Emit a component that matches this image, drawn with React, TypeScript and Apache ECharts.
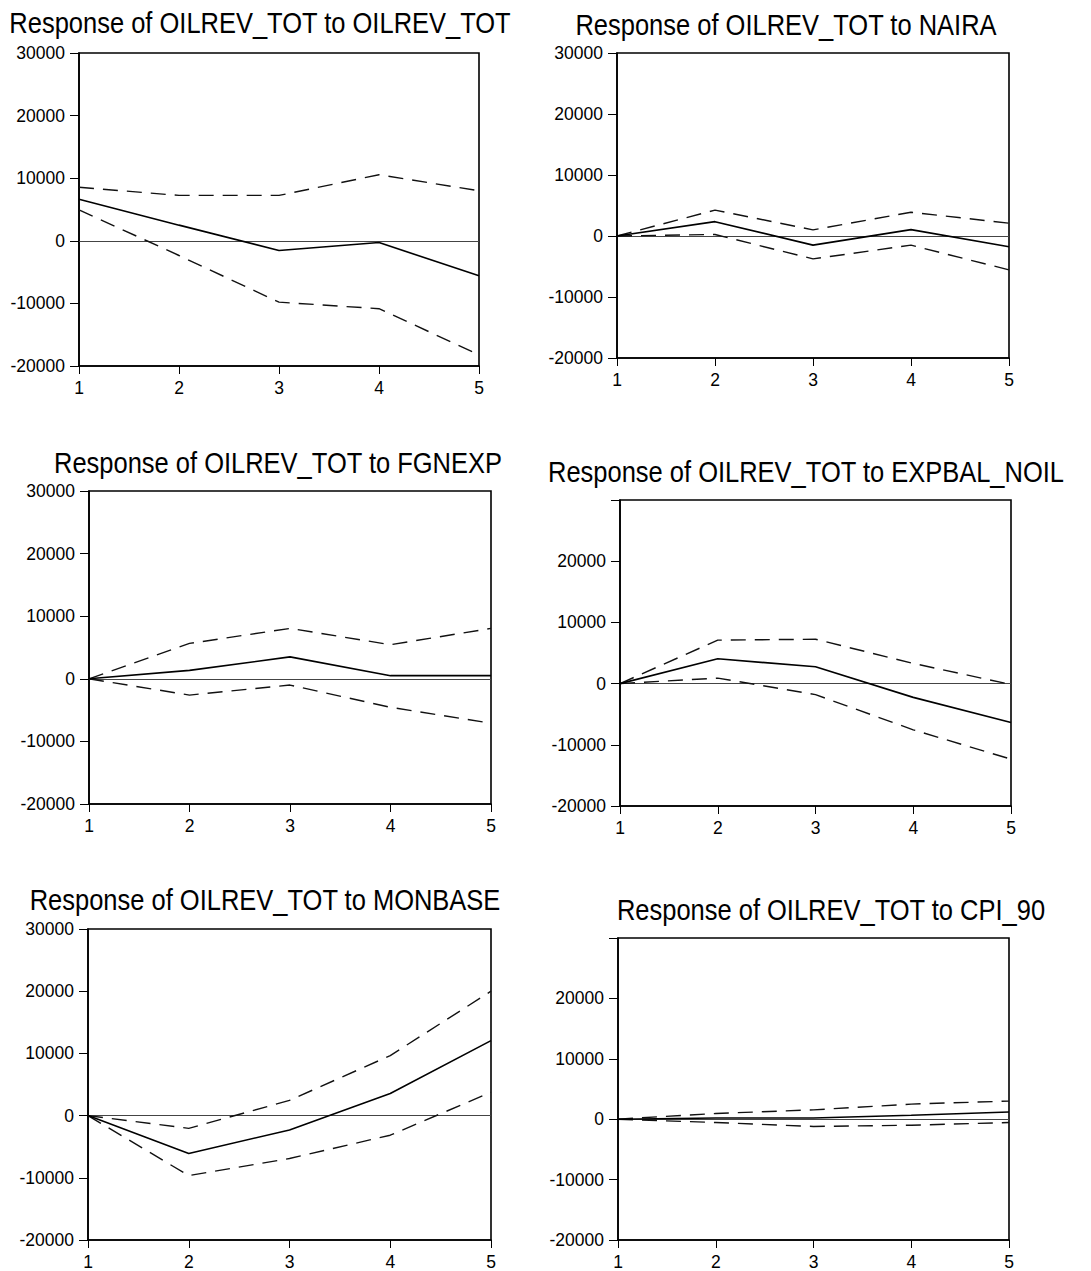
import React, { useEffect, useRef } from "react";
import * as echarts from "echarts";

const periods = [1, 2, 3, 4, 5];
const yMin = -20000;
const yMax = 30000;
const yStep = 10000;

const titles = [
  "Response of OILREV_TOT to OILREV_TOT",
  "Response of OILREV_TOT to NAIRA",
  "Response of OILREV_TOT to FGNEXP",
  "Response of OILREV_TOT to EXPBAL_NOIL",
  "Response of OILREV_TOT to MONBASE",
  "Response of OILREV_TOT to CPI_90",
];

const oilrevResp = [6650, 2500, -1550, -270, -5600];
const oilrevUpper = [8550, 7250, 7250, 10550, 8000];
const oilrevLower = [4950, -2350, -9800, -10850, -18200];

const nairaResp = [0, 2350, -1500, 1050, -1750];
const nairaUpper = [0, 4250, 1000, 3900, 2100];
const nairaLower = [0, 250, -3750, -1500, -5550];

const fgnexpResp = [0, 1350, 3500, 500, 500];
const fgnexpUpper = [0, 5650, 8050, 5450, 8050];
const fgnexpLower = [0, -2600, -1000, -4550, -7100];

const expbalResp = [0, 4050, 2750, -2250, -6350];
const expbalUpper = [0, 7100, 7250, 3300, -150];
const expbalLower = [0, 900, -1800, -7550, -12350];

const monbaseResp = [0, -6100, -2300, 3550, 12050];
const monbaseUpper = [0, -2050, 2450, 9650, 20000];
const monbaseLower = [0, -9650, -6900, -3150, 3750];

const cpiResp = [0, 200, 200, 650, 1200];
const cpiUpper = [0, 950, 1550, 2500, 3000];
const cpiLower = [0, -550, -1200, -1000, -550];

const panelData = [
  [oilrevResp, oilrevUpper, oilrevLower],
  [nairaResp, nairaUpper, nairaLower],
  [fgnexpResp, fgnexpUpper, fgnexpLower],
  [expbalResp, expbalUpper, expbalLower],
  [monbaseResp, monbaseUpper, monbaseLower],
  [cpiResp, cpiUpper, cpiLower],
];

// layout of each panel (plot box + title anchor)
const layout = [
  { left: 79, top: 53, width: 400, height: 313, tx: 260, ty: 23, hideTop: false },
  { left: 617, top: 53, width: 392, height: 305, tx: 786, ty: 25, hideTop: false },
  { left: 89, top: 491, width: 402, height: 313, tx: 278, ty: 463, hideTop: false },
  { left: 620, top: 500, width: 391, height: 306, tx: 806, ty: 472, hideTop: true },
  { left: 88, top: 929, width: 403, height: 313, tx: 265, ty: 900, hideTop: false },
  { left: 618, top: 938, width: 391, height: 305, tx: 831, ty: 910, hideTop: true },
];

const FONT = '"Liberation Sans", Arial, Helvetica, sans-serif';

export default function App() {
  const ref = useRef<HTMLDivElement>(null);

  useEffect(() => {
    if (!ref.current) return;
    const chart = echarts.init(ref.current, undefined, { renderer: "svg" });

    const grid = layout.map((p) => ({
      left: p.left,
      top: p.top,
      width: p.width,
      height: p.height,
      show: true,
      borderColor: "#000",
      borderWidth: 1.6,
      backgroundColor: "transparent",
    }));

    const xAxis = layout.map((_, i) => ({
      type: "value",
      gridIndex: i,
      min: 1,
      max: 5,
      interval: 1,
      axisLine: { show: true, onZero: false, lineStyle: { color: "#000", width: 1.6 } },
      axisTick: { show: true, inside: false, length: 8, lineStyle: { color: "#000", width: 1 } },
      axisLabel: { color: "#000", fontSize: 17.5, fontFamily: FONT, margin: 13 },
      splitLine: { show: false },
    }));

    const yAxis = layout.map((p, i) => ({
      type: "value",
      gridIndex: i,
      min: yMin,
      max: yMax,
      interval: yStep,
      axisLine: { show: true, onZero: false, lineStyle: { color: "#000", width: 1.6 } },
      axisTick: { show: true, inside: false, length: 9, lineStyle: { color: "#000", width: 1 } },
      axisLabel: {
        color: "#000",
        fontSize: 17.5,
        fontFamily: FONT,
        margin: 14,
        formatter: (v: number) => (p.hideTop && v === yMax ? "" : String(v)),
      },
      splitLine: { show: false },
    }));

    const series: any[] = [];
    panelData.forEach(([resp, upper, lower], i) => {
      series.push({
        type: "line",
        xAxisIndex: i,
        yAxisIndex: i,
        data: periods.map((x, j) => [x, resp[j]]),
        symbol: "none",
        lineStyle: { color: "#000", width: 1.6, type: "solid" },
        z: 3,
        markLine: {
          silent: true,
          symbol: ["none", "none"],
          label: { show: false },
          lineStyle: { color: "#444", width: 1, type: "solid" },
          data: [{ yAxis: 0 }],
          z: 1,
        },
      });
      [upper, lower].forEach((band) => {
        series.push({
          type: "line",
          xAxisIndex: i,
          yAxisIndex: i,
          data: periods.map((x, j) => [x, band[j]]),
          symbol: "none",
          lineStyle: { color: "#111", width: 1.4, type: [15, 9] },
          z: 2,
        });
      });
    });

    const graphic = layout.map((p, i) => ({
      type: "text",
      x: p.tx,
      y: p.ty,
      scaleY: 1.13,
      style: {
        text: titles[i],
        fontSize: 25.5,
        fontFamily: FONT,
        fill: "#000",
        textAlign: "center",
        textVerticalAlign: "middle",
        align: "center",
        verticalAlign: "middle",
      },
    }));

    chart.setOption({
      animation: false,
      backgroundColor: "#fff",
      grid,
      xAxis,
      yAxis,
      series,
      graphic,
    });

    return () => chart.dispose();
  }, []);

  return (
    <div
      ref={ref}
      style={{ position: "absolute", left: 0, top: 0, width: 1091, height: 1271 }}
    />
  );
}
